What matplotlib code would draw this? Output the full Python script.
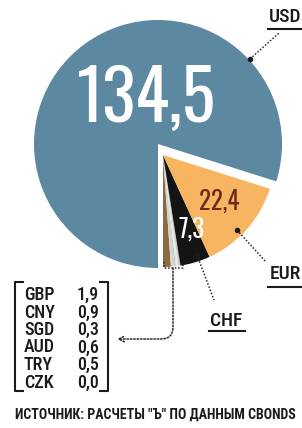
import matplotlib
matplotlib.use("Agg")
import matplotlib.pyplot as plt
from matplotlib import font_manager

# ---------------- data ----------------
currencies = ["GBP", "CNY", "SGD", "AUD", "TRY", "CZK", "CHF", "EUR", "USD"]
values = [1.9, 0.9, 0.3, 0.6, 0.5, 0.0, 7.3, 22.4, 134.5]
colors = ["#8a6a3e", "#d6d6d0", "#b9bcb8", "#ebebe6", "#c9ccc6", "#ffffff",
          "#141414", "#f8b561", "#5c88a1"]
small_names = ["GBP", "CNY", "SGD", "AUD", "TRY", "CZK"]
small_labels = ["1,9", "0,9", "0,3", "0,6", "0,5", "0,0"]
footer = "ИСТОЧНИК: РАСЧЕТЫ \"Ъ\" ПО ДАННЫМ CBONDS"

# ---------------- fonts ----------------
avail = {f.name for f in font_manager.fontManager.ttflist}
NUM = next(c for c in ["Oswald", "PT Sans Narrow", "Roboto Condensed",
                       "Liberation Sans Narrow", "DejaVu Sans"] if c in avail)
LAB = next(c for c in ["Roboto Condensed", "PT Sans Narrow", "Oswald",
                       "Liberation Sans Narrow", "DejaVu Sans"] if c in avail)
FNUM = [NUM, "DejaVu Sans"]
FLAB = [LAB, "DejaVu Sans"]

W, H = 302, 428
fig = plt.figure(figsize=(W / 100, H / 100), dpi=100)
ax = fig.add_axes([0, 0, 1, 1])


def Y(py):
    return H - py


# ---------------- pie ----------------
wedges, _ = ax.pie(values, colors=colors, startangle=-90, counterclock=True,
                   center=(158, Y(144)), radius=124,
                   wedgeprops=dict(linewidth=0), frame=True)
ax.set_xlim(0, W)
ax.set_ylim(0, H)
ax.set_aspect("equal")
ax.axis("off")
for w, c in zip(wedges, currencies):
    if c != "USD":
        w.set_center((163, Y(155)))
        w.set_radius(112)

# value labels
ax.text(146, Y(122), "134,5", family=FNUM, fontsize=50, color="white",
        ha="center", va="baseline", fontweight="light")
ax.text(219, Y(210), "22,4", family=FNUM, fontsize=18, color="#6e2a1c",
        ha="center", va="baseline", fontweight="light")
ax.text(192, Y(238), "7,3", family=FNUM, fontsize=18, color="white",
        ha="center", va="baseline", fontweight="bold")

# ---------------- callouts ----------------
lead = dict(color="#2a2a2a", linewidth=1.1, linestyle=(0, (1, 1.2)))


def callout(p0, p1, label, lx, ly, ux0, ux1, uy):
    ax.plot([p0[0], p1[0]], [Y(p0[1]), Y(p1[1])], **lead)
    ax.plot([p0[0]], [Y(p0[1])], "o", color="#1a1a1a", markersize=3)
    ax.text(lx, Y(ly), label, family=FLAB, fontsize=14, color="#1a1a1a",
            ha="left", va="baseline", fontweight="medium")
    ax.plot([ux0, ux1], [Y(uy), Y(uy)], color="#1a1a1a", linewidth=1.5)


callout((250, 59), (279, 33), "USD", 269, 22, 268, 302, 29)
callout((237, 230), (266, 262), "EUR", 270, 279, 268, 302, 287)
callout((197, 255), (214, 300), "CHF", 210, 326, 209, 245, 331)

# bracket under small slices
ax.plot([164, 164, 183, 183], [Y(262), Y(268), Y(268), Y(262)],
        color="#2a2a2a", linewidth=1.1, linestyle=(0, (1, 1.2)))
ax.annotate("", xy=(117, Y(339)), xytext=(173, Y(268)),
            arrowprops=dict(arrowstyle="->", color="#2a2a2a", linewidth=1.1,
                            linestyle=(0, (1, 1.2)), shrinkA=0, shrinkB=0,
                            connectionstyle="angle,angleA=90,angleB=0,rad=12"))

# ---------------- small-currency box ----------------
top, bot = 282, 391
ax.plot([23, 15, 15, 23], [Y(top), Y(top), Y(bot), Y(bot)], color="#1a1a1a", linewidth=1.5)
ax.plot([100, 108, 108, 100], [Y(top), Y(top), Y(bot), Y(bot)], color="#1a1a1a", linewidth=1.5)
row0, step = 300, 17.5
for i, (n, v) in enumerate(zip(small_names, small_labels)):
    yb = row0 + i * step
    ax.text(24, Y(yb), n, family=FLAB, fontsize=13, color="#1a1a1a",
            ha="left", va="baseline", fontweight="medium")
    ax.text(99, Y(yb), v, family=FLAB, fontsize=13, color="#1a1a1a",
            ha="right", va="baseline", fontweight="medium")

# ---------------- footer ----------------
ax.text(15, Y(419), footer, family=FLAB, fontsize=10, color="#1a1a1a",
        ha="left", va="baseline", fontweight="bold")

fig.savefig("out.png", dpi=100)
